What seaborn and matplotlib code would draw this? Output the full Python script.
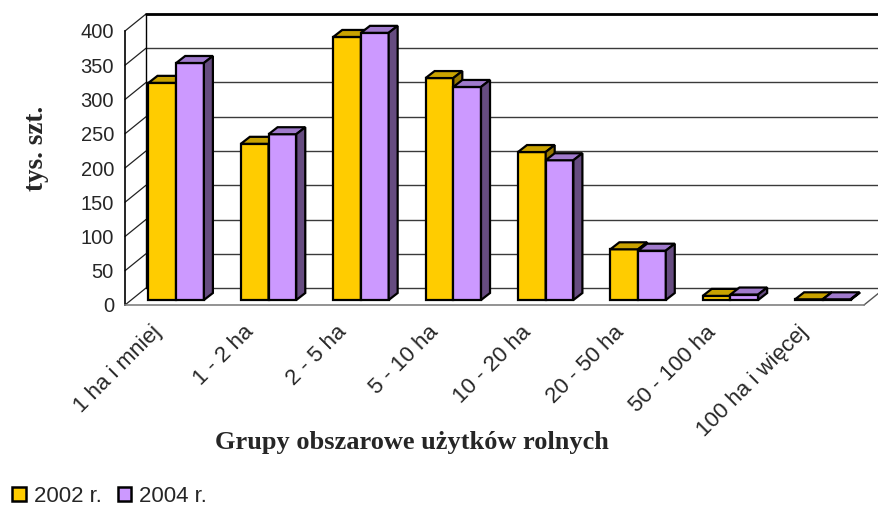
import matplotlib
matplotlib.use("Agg")
import matplotlib.pyplot as plt
from matplotlib.patches import Polygon, Patch
import seaborn as sns
import pandas as pd

# dane
grupy = ["1 ha i mniej", "1 - 2 ha", "2 - 5 ha", "5 - 10 ha",
         "10 - 20 ha", "20 - 50 ha", "50 - 100 ha", "100 ha i więcej"]
lata = ["2002 r.", "2004 r."]
wartosci_2002 = [317, 228, 384, 324, 216, 74, 6, 1]
wartosci_2004 = [346, 242, 390, 311, 204, 72, 8, 1]

df = pd.DataFrame({
    "grupa": grupy * 2,
    "rok": [lata[0]] * len(grupy) + [lata[1]] * len(grupy),
    "sztuki": wartosci_2002 + wartosci_2004,
})

kolory = {"2002 r.": "#FFCC00", "2004 r.": "#CC99FF"}
kolory_gora = {"2002 r.": "#C9A200", "2004 r.": "#A07ACC"}
kolory_bok = {"2002 r.": "#977800", "2004 r.": "#664C80"}

sns.set_style("white")
plt.rcParams["font.family"] = ["Liberation Sans", "DejaVu Sans"]

W, H = 879, 513
fig = plt.figure(figsize=(W / 100, H / 100), dpi=100)
# przednia plaszczyzna: x 125..864 px, y 305 (0) .. 31 (400)
AX_L, AX_R, AX_B, AX_T = 125, 864, 305, 31
ax = fig.add_axes([AX_L / W, (H - AX_B) / H, (AX_R - AX_L) / W, (AX_B - AX_T) / H])

sns.barplot(data=df, x="grupa", y="sztuki", hue="rok", palette=kolory,
            saturation=1, width=0.6, errorbar=None, legend=False, ax=ax,
            edgecolor="black", linewidth=1.6)

ax.set_xlim(-0.5, len(grupy) - 0.5)
ax.set_ylim(0, 400)

sx = (AX_R - AX_L) / len(grupy)   # px na jednostke x
sy = (AX_B - AX_T) / 400          # px na jednostke y


def px(dx, dy):
    return dx / sx, dy / sy


# sciana tylna / boczna
bx, by = px(21, 17)
x0, x1 = -0.5, len(grupy) - 0.5
for v in range(0, 401, 50):
    ax.plot([x0 + bx, x1 + bx], [v + by, v + by], color="#3a3a3a",
            lw=1.0, clip_on=False, zorder=1)
    ax.plot([x0, x0 + bx], [v, v + by], color="#222222", lw=0.9,
            clip_on=False, zorder=1)
ax.plot([x0 + bx, x1 + bx], [400 + by, 400 + by], color="black",
        lw=2, clip_on=False, zorder=1)
ax.plot([x0 + bx, x0 + bx], [by, 400 + by], color="black", lw=1,
        clip_on=False, zorder=1)
ax.plot([x1, x1 + bx], [0, by], color="#555555", lw=1, clip_on=False,
        zorder=1)

# slupki 3D
ox, oy = px(5, 5)
gx, gy = px(9, 7)
for i, (rok, cont) in enumerate(zip(lata, ax.containers)):
    z = 3 + i
    for bar in cont:
        bar.set_x(bar.get_x() + ox)
        bar.set_y(oy)
        bar.set_zorder(z)
        xa = bar.get_x()
        xb = xa + bar.get_width()
        yt = oy + bar.get_height()
        gora = Polygon([(xa, yt), (xb, yt), (xb + gx, yt + gy), (xa + gx, yt + gy)],
                       closed=True, facecolor=kolory_gora[rok],
                       edgecolor="black", lw=1.6, zorder=z + 0.1, clip_on=False)
        bok = Polygon([(xb, oy), (xb + gx, oy + gy), (xb + gx, yt + gy), (xb, yt)],
                      closed=True, facecolor=kolory_bok[rok],
                      edgecolor="black", lw=1.6, zorder=z + 0.1, clip_on=False)
        ax.add_patch(gora)
        ax.add_patch(bok)

# osie
for s in ["top", "right"]:
    ax.spines[s].set_visible(False)
ax.spines["left"].set_color("black")
ax.spines["left"].set_linewidth(1.2)
ax.spines["bottom"].set_color("#808080")
ax.spines["bottom"].set_linewidth(1.2)

ax.set_yticks(range(0, 401, 50))
ax.tick_params(axis="y", direction="out", length=7, width=1, color="black",
               labelsize=14.5, pad=1)
# etykiety kategorii przesuniete w lewo (koniec tekstu przy srodku kategorii)
lx, _ = px(20, 0)
ax.set_xticks([k - lx for k in range(len(grupy))])
ax.set_xticklabels(grupy, rotation=45, ha="right", va="top",
                   rotation_mode="anchor", fontsize=16)
ax.set_xticks([k - 0.5 for k in range(len(grupy) + 1)], minor=True)
ax.tick_params(axis="x", which="major", length=0, pad=12)
ax.tick_params(axis="x", which="minor", direction="out", length=5, width=1,
               color="#808080")
ax.set_xlabel("")
ax.set_ylabel("")

fig.text(37 / W, 1 - 148 / H, "tys. szt.", rotation=90, ha="center",
         va="center", fontsize=19.5, fontweight="bold",
         family=["Liberation Serif", "DejaVu Serif"])
fig.text(412 / W, 1 - 442 / H, "Grupy obszarowe użytków rolnych",
         ha="center", va="center", fontsize=19, fontweight="bold",
         family=["Liberation Serif", "DejaVu Serif"])

uchwyty = [Patch(facecolor=kolory[r], edgecolor="black", lw=1.8, label=r)
           for r in lata]
fig.legend(handles=uchwyty, loc="lower left", bbox_to_anchor=(8 / W, 2 / H),
           ncol=2, frameon=False, fontsize=16, handlelength=0.6,
           handleheight=0.6, handletextpad=0.35, columnspacing=0.75,
           borderaxespad=0.0, borderpad=0.2)

fig.savefig("out.png", dpi=100)
